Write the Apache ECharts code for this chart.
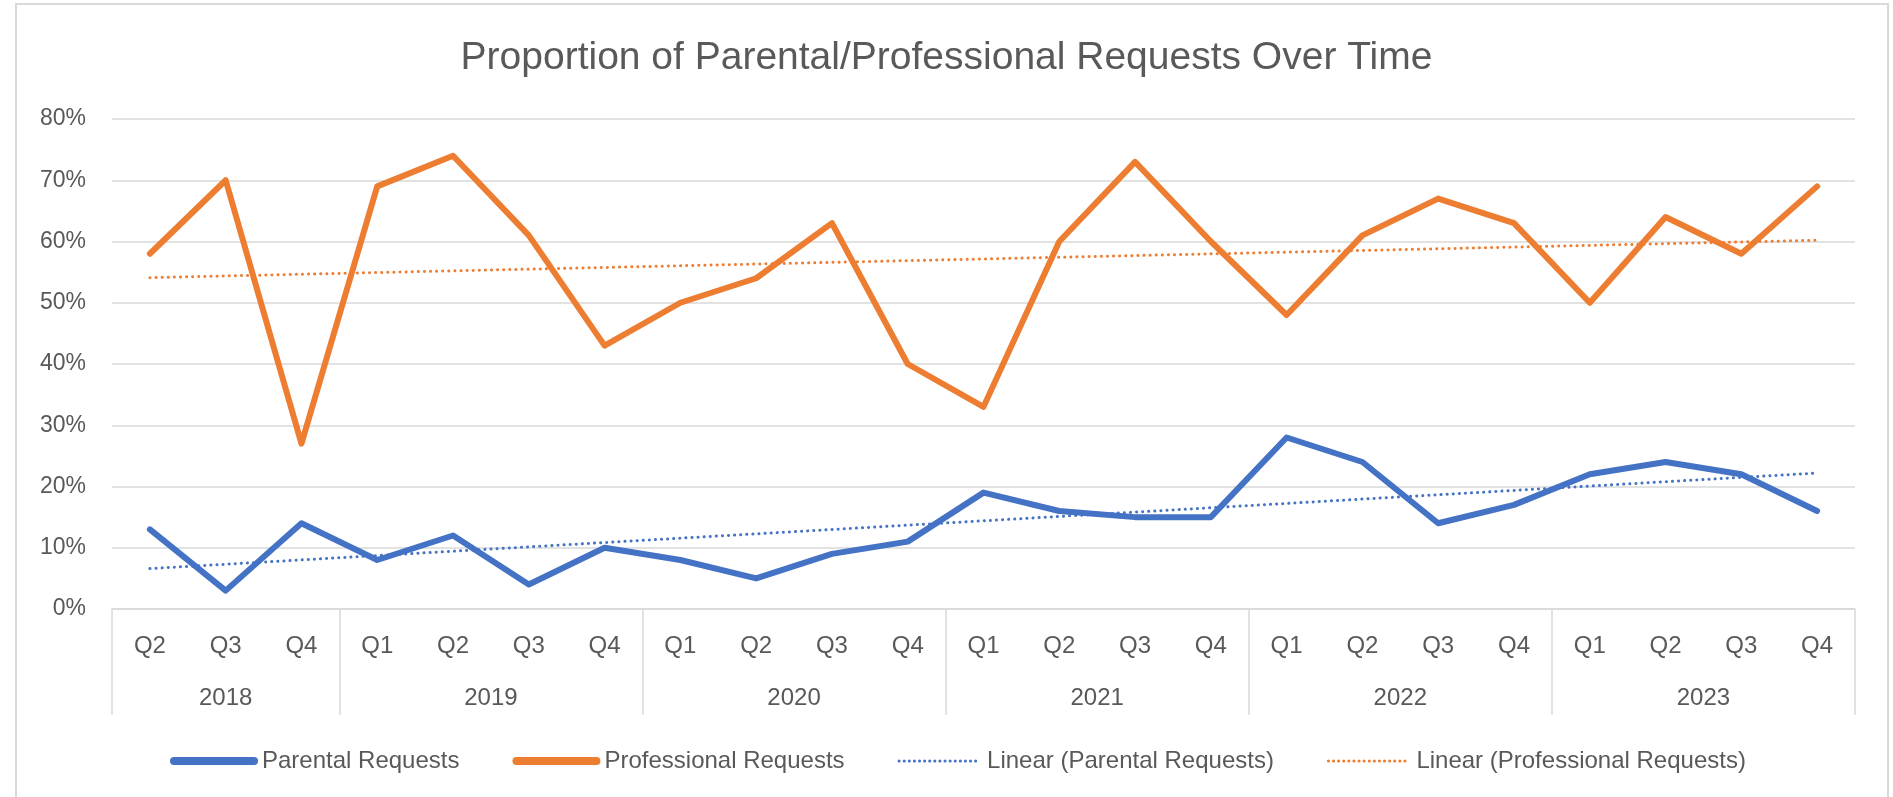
<!DOCTYPE html>
<html>
<head>
<meta charset="utf-8">
<script src="https://cdn.jsdelivr.net/npm/echarts@6/dist/echarts.min.js"></script>
<style>
  html, body { margin: 0; padding: 0; background: #fff; }
  #main { width: 1893px; height: 797px; }
</style>
</head>
<body>
<div id="main"></div>
<script>
// 季度 / 年份
const quarters = ['Q2', 'Q3', 'Q4',
  'Q1', 'Q2', 'Q3', 'Q4',
  'Q1', 'Q2', 'Q3', 'Q4',
  'Q1', 'Q2', 'Q3', 'Q4',
  'Q1', 'Q2', 'Q3', 'Q4',
  'Q1', 'Q2', 'Q3', 'Q4']
const years = ['2018', '2019', '2020', '2021', '2022', '2023']
const yearQuarterCount = [3, 4, 4, 4, 4, 4]

// 百分比
const parental = [13, 3, 14, 8, 12, 4, 10, 8, 5, 9, 11, 19, 16, 15, 15, 28, 24, 14, 17, 22, 24, 22, 16]
const professional = [58, 70, 27, 69, 74, 61, 43, 50, 54, 63, 40, 33, 60, 73, 60, 48, 61, 67, 63, 50, 64, 58, 69]
// 趋势线起点/终点
const parentalTrend = [6.6, 22.2]
const professionalTrend = [54.1, 60.2]

const yTicks = [0, 10, 20, 30, 40, 50, 60, 70, 80]

const FONT = "'Liberation Sans', Arial, sans-serif"
const GREY = '#595959'
const LINE = '#d9d9d9'
const BLUE = '#4472c4'
const ORANGE = '#ed7d31'
const DOT = [0.1, 6]

// 年份轴：每个季度拆成两半，共 47 个点
const yearSlots = []
const yearBoundary = {}
const yearCenter = {}
let pos = 0
yearBoundary[0] = true
for (let i = 0; i < years.length; i++) {
  const half = yearQuarterCount[i] * 2
  yearCenter[pos + half / 2] = years[i]
  pos += half
  yearBoundary[pos] = true
}
for (let k = 0; k <= pos; k++) {
  yearSlots.push(yearCenter[k] || '')
}

function trendData(ends) {
  const d = quarters.map(() => null)
  d[0] = ends[0]
  d[d.length - 1] = ends[1]
  return d
}

const myChart = echarts.init(document.getElementById('main'))
const option = {
  animation: false,
  backgroundColor: '#fff',
  title: {
    text: 'Proportion of Parental/Professional Requests Over Time',
    left: 'center',
    top: 34,
    textStyle: {
      color: GREY,
      fontFamily: FONT,
      fontWeight: 'normal',
      fontSize: 39,
    }
  },
  legend: {
    left: 165,
    top: 744,
    itemWidth: 80,
    itemHeight: 14,
    itemGap: 53,
    itemStyle: {color: 'rgba(0,0,0,0)', borderWidth: 0, opacity: 0},
    textStyle: {color: GREY, fontFamily: FONT, fontSize: 24, padding: [0, 0, 0, 3]},
    data: [
      {name: 'Parental Requests', lineStyle: {width: 8, color: BLUE, cap: 'round'}},
      {name: 'Professional Requests', lineStyle: {width: 8, color: ORANGE, cap: 'round'}},
      {name: 'Linear (Parental Requests)', lineStyle: {width: 3, color: BLUE, type: [0.1, 5], cap: 'round'}},
      {name: 'Linear (Professional Requests)', lineStyle: {width: 3, color: ORANGE, type: [0.1, 5], cap: 'round'}}
    ]
  },
  grid: {
    left: 112,
    right: 38,
    top: 119,
    bottom: 188,
  },
  xAxis: [{
    type: 'category',
    data: quarters,
    boundaryGap: true,
    axisLine: {lineStyle: {color: LINE, width: 1.5}},
    axisTick: {show: false},
    axisLabel: {color: GREY, fontFamily: FONT, fontSize: 24, margin: 25, interval: 0},
  }, {
    type: 'category',
    data: yearSlots,
    boundaryGap: false,
    position: 'bottom',
    axisLine: {show: false},
    axisTick: {
      show: true,
      length: 106,
      interval: function (idx) {
        return !!yearBoundary[idx]
      },
      lineStyle: {color: LINE, width: 1.5}
    },
    axisLabel: {
      color: GREY, fontFamily: FONT, fontSize: 24, margin: 77,
      interval: function (idx, val) {
        return val !== ''
      }
    },
  }],
  yAxis: {
    type: 'value',
    min: yTicks[0],
    max: yTicks[yTicks.length - 1],
    interval: 10,
    axisLine: {show: false},
    axisTick: {show: false},
    splitLine: {lineStyle: {color: LINE, width: 1.5}},
    axisLabel: {color: GREY, fontFamily: FONT, fontSize: 23, margin: 26, formatter: '{value}%'}
  },
  graphic: [{
    type: 'rect',
    shape: {x: 16, y: 4, width: 1872, height: 820},
    style: {fill: 'none', stroke: LINE, lineWidth: 2},
    silent: true,
  }],
  series: [
    {
      name: 'Parental Requests',
      type: 'line',
      data: parental,
      symbol: 'none',
      lineStyle: {width: 6, color: BLUE, cap: 'round', join: 'round'},
      itemStyle: {color: BLUE},
      z: 3,
    },
    {
      name: 'Professional Requests',
      type: 'line',
      data: professional,
      symbol: 'none',
      lineStyle: {width: 6, color: ORANGE, cap: 'round', join: 'round'},
      itemStyle: {color: ORANGE},
      z: 3,
    },
    {
      name: 'Linear (Parental Requests)',
      type: 'line',
      data: trendData(parentalTrend),
      connectNulls: true,
      symbol: 'none',
      lineStyle: {width: 3, color: BLUE, type: DOT, cap: 'round'},
      itemStyle: {color: BLUE},
      z: 4,
    },
    {
      name: 'Linear (Professional Requests)',
      type: 'line',
      data: trendData(professionalTrend),
      connectNulls: true,
      symbol: 'none',
      lineStyle: {width: 3, color: ORANGE, type: DOT, cap: 'round'},
      itemStyle: {color: ORANGE},
      z: 4,
    }
  ]
}
myChart.setOption(option)
</script>
</body>
</html>
